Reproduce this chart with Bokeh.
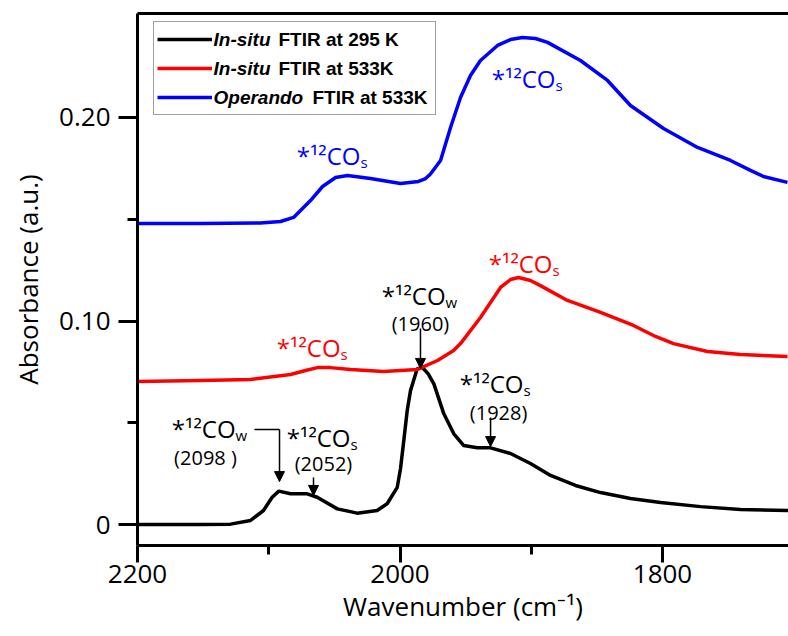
from bokeh.plotting import figure
from bokeh.models import (Range1d, FixedTicker, LinearAxis, Legend, LegendItem,
                          Label, Arrow, NormalHead)
from bokeh.embed import file_html
from bokeh.resources import INLINE

# ---------------- data ----------------
series_names = ["In-situ FTIR at 295 K", "In-situ FTIR at 533K", "Operando FTIR at 533K"]
series_colors = ["#000000", "#FF0000", "#0000FF"]

wn_295 = [2200.0, 2152.0, 2129.1, 2113.9, 2104.0, 2097.4, 2092.3, 2083.4, 2070.7, 2063.1,
          2047.8, 2032.6, 2017.4, 2009.8, 2002.1, 1999.6, 1997.1, 1994.5, 1992.0, 1986.9,
          1983.1, 1978.5, 1974.2, 1966.6, 1959.0, 1951.4, 1941.2, 1931.0, 1915.8, 1900.6,
          1885.3, 1866.3, 1847.2, 1824.4, 1801.5, 1771.0, 1740.6, 1704.0]
abs_295 = [0.0, 0.0, 0.0002, 0.0020, 0.0069, 0.0134, 0.0164, 0.0151, 0.0151, 0.0134,
           0.0077, 0.0056, 0.0069, 0.0102, 0.0183, 0.0275, 0.0413, 0.0560, 0.0658, 0.0765,
           0.0773, 0.0740, 0.0691, 0.0544, 0.0446, 0.0388, 0.0377, 0.0377, 0.0349, 0.0300,
           0.0241, 0.0192, 0.0157, 0.0128, 0.0108, 0.0088, 0.0074, 0.0069]

wn_533 = [2200.0, 2152.0, 2113.9, 2083.4, 2072.0, 2062.9, 2053.0, 2037.7, 2012.6, 1986.7,
          1971.4, 1959.2, 1953.9, 1938.7, 1923.4, 1915.8, 1909.7, 1900.6, 1893.0, 1872.4,
          1847.2, 1822.1, 1805.3, 1791.6, 1765.7, 1740.6, 1704.8]
abs_533 = [0.0703, 0.0708, 0.0713, 0.0737, 0.0757, 0.0771, 0.0771, 0.0762, 0.0752, 0.0762,
           0.0806, 0.0855, 0.0889, 0.1017, 0.1165, 0.1204, 0.1214, 0.1199, 0.1174, 0.1101,
           0.1042, 0.0978, 0.0924, 0.0889, 0.0850, 0.0835, 0.0826]

wn_op = [2200.0, 2152.0, 2106.3, 2091.0, 2081.1, 2068.2, 2059.0, 2049.1, 2040.0, 2022.5,
         1999.6, 1985.9, 1980.5, 1976.8, 1969.1, 1961.5, 1953.9, 1946.3, 1938.7, 1925.7,
         1915.8, 1906.7, 1896.8, 1887.6, 1862.5, 1841.9, 1824.4, 1799.2, 1773.3, 1748.2,
         1733.0, 1723.1, 1704.8]
abs_op = [0.1479, 0.1479, 0.1482, 0.1489, 0.1509, 0.1592, 0.1661, 0.1705, 0.1715, 0.1700,
          0.1676, 0.1686, 0.1700, 0.1722, 0.1789, 0.1951, 0.2098, 0.2206, 0.2280, 0.2354,
          0.2383, 0.2393, 0.2388, 0.2369, 0.2280, 0.2182, 0.2059, 0.1946, 0.1853, 0.1789,
          0.1740, 0.1710, 0.1681]

x_ticks = [2200, 2000, 1800]
x_minor = [2100, 1900]
y_ticks = [0, 0.1, 0.2]
y_minor = [0.05, 0.15]
y_tick_labels = ["0", "0.10", "0.20"]

# band annotations
ann_main = ["*\u00b9\u00b2CO"] * 8
ann_sub = ["s", "s", "s", "s", "w", "s", "w", "s"]
ann_color = ["#0000FF", "#0000FF", "#FF0000", "#FF0000", "#000000", "#000000", "#000000", "#000000"]
ann_x = [2030.1, 1881.5, 1883.8, 2045.3, 1965.3, 1905.9, 2125.3, 2037.7]
ann_y = [0.1813, 0.2192, 0.1283, 0.0870, 0.1125, 0.0693, 0.0472, 0.0428]

pk_text = ["(1960)", "(1928)", "(2098 )", "(2052)"]
pk_x = [1984.4, 1924.9, 2148.2, 2058.3]
pk_y = [0.0988, 0.0550, 0.0329, 0.0300]

arrow_x0 = [1984.4, 1931.0, 2091.8, 2065.9]
arrow_y0 = [0.0963, 0.0526, 0.0467, 0.0231]
arrow_x1 = [1984.4, 1931.0, 2091.8, 2065.9]
arrow_y1 = [0.0767, 0.0383, 0.0211, 0.0143]
elbow_x0 = 2110.9  # horizontal lead-in of the (2098) arrow

leg_italic = ["In-situ", "In-situ", "Operando"]
leg_rest = ["FTIR at 295 K", "FTIR at 533K", "FTIR at 533K"]
leg_x_it = 2142.1
leg_x_rest = [2092.6, 2092.6, 2066.7]
leg_y = [0.2383, 0.2241, 0.2098]

# ---------------- figure ----------------
FONT = "Open Sans"
p = figure(width=788, height=636, output_backend="svg", toolbar_location=None,
           x_range=Range1d(2200, 1704), y_range=Range1d(-0.0103, 0.2511),
           min_border_left=137, min_border_right=0, min_border_top=13, min_border_bottom=91,
           background_fill_color="white", border_fill_color="white")
p.outline_line_color = None
p.xgrid.visible = False
p.ygrid.visible = False

renderers = []
for wn, ab, col in zip([wn_295, wn_533, wn_op], [abs_295, abs_533, abs_op], series_colors):
    r = p.line(wn, ab, line_color=col, line_width=3.5, line_join="round")
    renderers.append(r)

xa = p.xaxis[0]
ya = p.yaxis[0]
xa.ticker = FixedTicker(ticks=x_ticks, minor_ticks=x_minor)
ya.ticker = FixedTicker(ticks=y_ticks, minor_ticks=y_minor)
ya.major_label_overrides = {t: s for t, s in zip(y_ticks, y_tick_labels)}
xa.axis_label = "Wavenumber (cm\u207b\u00b9)"
ya.axis_label = "Absorbance (a.u.)"
for ax in (xa, ya):
    ax.axis_line_width = 3
    ax.major_tick_line_width = 3
    ax.minor_tick_line_width = 3
    ax.major_tick_in = 0
    ax.minor_tick_in = 0
    ax.major_label_text_font = FONT
    ax.major_label_text_font_size = "26px"
    ax.major_label_text_color = "black"
    ax.axis_label_text_font = FONT
    ax.axis_label_text_font_size = "26px"
    ax.axis_label_text_font_style = "normal"
    ax.axis_label_text_color = "black"
xa.major_tick_out = 17
xa.minor_tick_out = 9
ya.major_tick_out = 19
ya.minor_tick_out = 10
xa.major_label_standoff = 2
ya.major_label_standoff = 8
xa.axis_label_standoff = 2
ya.axis_label_standoff = 10

top = LinearAxis(ticker=FixedTicker(ticks=[]), axis_line_width=3,
                 major_tick_line_color=None, minor_tick_line_color=None,
                 major_label_text_font_size="0px")
p.add_layout(top, "above")

# legend (swatches + box), texts overlaid as labels for mixed italic/bold
items = [LegendItem(label=" ", renderers=[r]) for r in renderers]
legend = Legend(items=items, location=(16, 430), padding=3, spacing=1,
                label_height=28, glyph_height=28, glyph_width=55, label_width=218,
                label_standoff=2, border_line_color="#404040", border_line_width=1,
                background_fill_color="white", background_fill_alpha=0.0, margin=0,
                label_text_font_size="19px")
p.add_layout(legend)

for i in range(3):
    p.add_layout(Label(x=leg_x_it, y=leg_y[i], text=leg_italic[i], text_font="Liberation Sans",
                       text_font_size="19px", text_font_style="bold italic",
                       text_baseline="middle", text_align="left", text_color="black",
                       level="overlay"))
    p.add_layout(Label(x=leg_x_rest[i], y=leg_y[i], text=leg_rest[i], text_font="Liberation Sans",
                       text_font_size="19px", text_font_style="bold",
                       text_baseline="middle", text_align="left", text_color="black",
                       level="overlay"))

# band labels
for t, s, c, x, y in zip(ann_main, ann_sub, ann_color, ann_x, ann_y):
    p.add_layout(Label(x=x, y=y, text=t, text_font=FONT, text_font_size="24px",
                       text_align="right", text_baseline="alphabetic", text_color=c))
    p.add_layout(Label(x=x, y=y - 0.0032, text=s, text_font=FONT, text_font_size="15px",
                       text_align="left", text_baseline="alphabetic", text_color=c))

for t, x, y in zip(pk_text, pk_x, pk_y):
    p.add_layout(Label(x=x, y=y, text=t, text_font=FONT, text_font_size="20px",
                       text_align="center", text_baseline="alphabetic", text_color="black"))

for x0, y0, x1, y1 in zip(arrow_x0, arrow_y0, arrow_x1, arrow_y1):
    p.add_layout(Arrow(end=NormalHead(size=10, fill_color="black", line_color="black", line_width=1),
                       x_start=x0, y_start=y0, x_end=x1, y_end=y1,
                       line_color="black", line_width=1.5))
p.add_layout(Arrow(end=None, x_start=elbow_x0, y_start=arrow_y0[2], x_end=arrow_x0[2],
                   y_end=arrow_y0[2], line_color="black", line_width=1.5))

open("out.html", "w").write(file_html(p, INLINE))
